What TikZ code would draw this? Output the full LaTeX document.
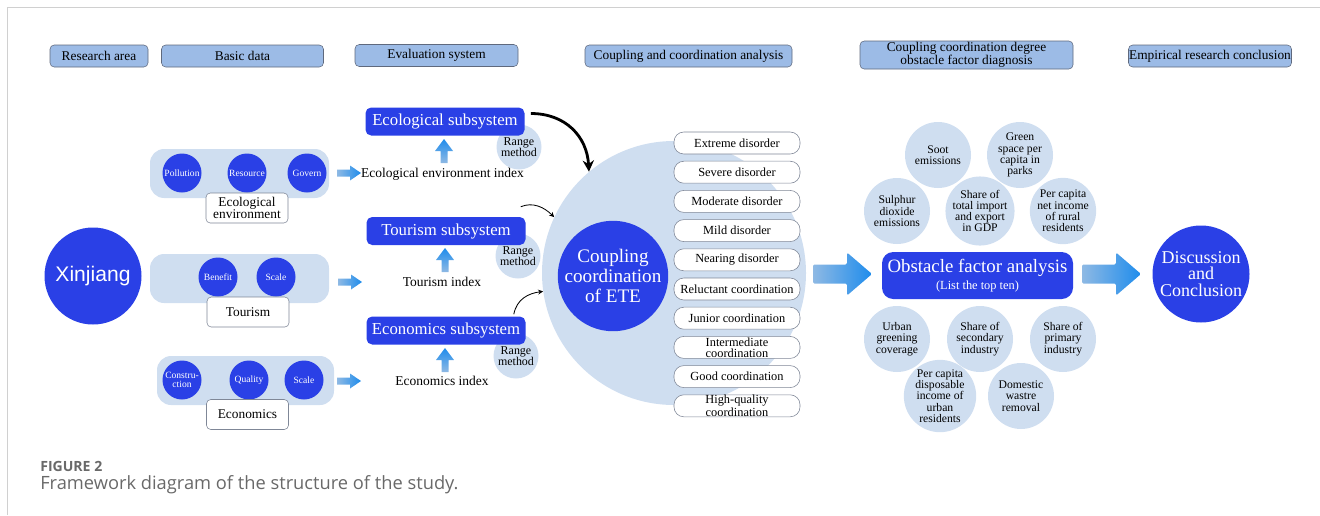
\documentclass[tikz,border=0pt]{standalone}
\usepackage{fontspec}
\setmainfont{Liberation Serif}
\newfontfamily\arialfont{Liberation Sans}
\newfontfamily\captionfont{Open Sans}
\usetikzlibrary{arrows.meta,positioning,calc}
\definecolor{etBlue}{RGB}{42,64,230}
\definecolor{etPale}{RGB}{207,222,240}
\definecolor{etHead}{RGB}{156,187,230}
\definecolor{etEdge}{RGB}{95,105,125}
\definecolor{etArrLight}{RGB}{142,185,228}
\definecolor{etArrDark}{RGB}{30,140,236}
\definecolor{etFrame}{RGB}{208,208,208}
\definecolor{etCaption}{RGB}{105,105,105}
\newcommand{\pxu}{0.025cm}

\begin{document}
\begin{tikzpicture}[x=0.025cm, y=-0.025cm,
  headbox/.style={draw=etEdge, fill=etHead, rounded corners=3pt, inner sep=0pt,
                  minimum height=22*\pxu, align=center, font=\fontsize{9.5}{9.5}\selectfont},
  rowbox/.style={fill=etPale, rounded corners=10pt, minimum height=49*\pxu, inner sep=0pt},
  dataitem/.style={circle, fill=etBlue, text=white, minimum size=39*\pxu, inner sep=0pt,
                   align=center, font=\fontsize{6.8}{6.8}\selectfont},
  tag/.style={draw=etEdge!80, fill=white, rounded corners=3pt, minimum width=82*\pxu,
              minimum height=30*\pxu, inner sep=0pt, align=center,
              font=\fontsize{9.5}{8.5}\selectfont},
  subsys/.style={fill=etBlue, text=white, rounded corners=4pt, minimum width=159*\pxu,
                 minimum height=28*\pxu, inner sep=0pt, font=\fontsize{11.9}{12}\selectfont},
  rangec/.style={circle, fill=etPale, minimum size=45*\pxu, inner sep=0pt, align=center,
                 font=\fontsize{8.5}{8}\selectfont},
  idxtext/.style={inner sep=0pt, font=\fontsize{9.6}{10}\selectfont},
  grade/.style={draw=etEdge!80, fill=white, rounded corners=7pt, minimum width=126*\pxu,
                minimum height=22*\pxu, inner sep=0pt, align=center,
                font=\fontsize{8.8}{8}\selectfont},
  factorc/.style={circle, fill=etPale, minimum size=66*\pxu, inner sep=0pt, align=center,
                  font=\fontsize{8.3}{8}\selectfont},
  hub/.style={circle, fill=etBlue, text=white, minimum size=97*\pxu, inner sep=0pt, align=center},
  bigarc/.style={-{Stealth[length=8pt,width=8pt]}, line width=2pt},
  smallarc/.style={-{Stealth[length=3.5pt,width=3.5pt]}, line width=0.6pt},
  rarrow/.pic={\shade[left color=etArrLight, right color=etArrDark]
    (0,-3.5) -- (13,-3.5) -- (13,-7.5) -- (24,0) -- (13,7.5) -- (13,3.5) -- (0,3.5) -- cycle;},
  uarrow/.pic={\shade[bottom color=etArrLight, top color=etArrDark]
    (-3.5,0) -- (-3.5,-12) -- (-9,-12) -- (0,-24) -- (9,-12) -- (3.5,-12) -- (3.5,0) -- cycle;},
  bigarrow/.pic={\shade[left color=etArrLight, right color=etArrDark, rounded corners=1pt]
    (0,-9.5) -- (34,-9.5) -- (34,-21.5) -- (59,0) -- (34,21.5) -- (34,9.5) -- (0,9.5) -- cycle;}
]
\useasboundingbox (0,0) rectangle (1320,515);
\draw[etFrame, line width=0.7pt] (7,515) -- (7,7) -- (1320,7);

% header row
\node[headbox, minimum width=98*\pxu] (hArea) at (99,56) {Research area};
\node[headbox, minimum width=162*\pxu] (hData) at (242.5,56) {Basic data};
\node[headbox, minimum width=163*\pxu] (hEval) at (436.5,55.5) {Evaluation system};
\node[headbox, minimum width=207*\pxu] (hCoup) at (688.5,56) {Coupling and coordination analysis};
\node[headbox, minimum width=213*\pxu, minimum height=28*\pxu] (hDiag) at (966.5,55)
  {Coupling coordination degree\\obstacle factor diagnosis};
\node[headbox, minimum width=163*\pxu] (hConc) at (1210,56) {Empirical research conclusion};

% research area
\node[hub, font=\arialfont\fontsize{15}{15}\selectfont] (xinjiang) at (93,276) {Xinjiang};

% basic data
\node[rowbox, minimum width=179*\pxu] (ecoRow) at (239.5,173.5) {};
\node[rowbox, minimum width=179*\pxu] (tourRow) at (239.5,278.5) {};
\node[rowbox, minimum width=177*\pxu] (econRow) at (245.5,380.5) {};

\node[dataitem] (pollution) at (182,173) {Pollution};
\node[dataitem] (resource) at (247,173) {Resource};
\node[dataitem] (govern) at (307,173) {Govern};
\node[dataitem] (benefit) at (218,277) {Benefit};
\node[dataitem] (tourScale) at (276,277) {Scale};
\node[dataitem] (construction) at (182,380) {Constru-\\ction};
\node[dataitem] (quality) at (249,380) {Quality};
\node[dataitem] (econScale) at (304,380) {Scale};

\node[tag] (ecoTag) at (247,208) {Ecological\\environment};
\node[tag] (tourTag) at (248,312) {Tourism};
\node[tag] (econTag) at (247.5,414.5) {Economics};

\pic at (337,173) {rarrow};
\pic at (338,282) {rarrow};
\pic at (337,381) {rarrow};

% evaluation system
\node[idxtext] (ecoIdx) at (442.5,174) {Ecological environment index};
\node[idxtext] (tourIdx) at (442,282) {Tourism index};
\node[idxtext] (econIdx) at (442,381) {Economics index};

\pic at (444,163) {uarrow};
\pic at (445,272) {uarrow};
\pic at (445,372) {uarrow};

\node[rangec] (ecoRange) at (519,147) {Range\\method};
\node[rangec] (tourRange) at (518,256) {Range\\method};
\node[rangec] (econRange) at (516,356) {Range\\method};

\node[subsys] (ecoSub) at (445,121.5) {Ecological subsystem};
\node[subsys] (tourSub) at (446,231) {Tourism subsystem};
\node[subsys] (econSub) at (446,330.5) {Economics subsystem};

% coupling and coordination
\node[circle, fill=etPale, minimum size=264*\pxu] (ccaBg) at (674,273) {};
\node[hub, font=\fontsize{13.6}{14.2}\selectfont] (ccaHub) at (613,276) {Coupling\\coordination\\of ETE};
\foreach \lvl [count=\k from 0] in {Extreme disorder, Severe disorder, Moderate disorder,
    Mild disorder, Nearing disorder, Reluctant coordination, Junior coordination,
    {Intermediate\\coordination}, Good coordination, {High-quality\\coordination}}
  \node[grade] (grade\k) at (737,143+29.2*\k) {\lvl};

\draw[bigarc] ([shift={(6,-8)}]ecoSub.east) .. controls +(35,0) and +(-2,-35) .. (ccaBg.130);
\draw[smallarc] ([shift={(-5,-10)}]tourSub.north east) .. controls +(12,-5) and +(-10,-10) .. (ccaBg.155);
\draw[smallarc] ([shift={(-12,-2)}]econSub.north east) .. controls +(3,-15) and +(-15,2) .. (ccaBg.188);

% obstacle diagnosis
\pic at (813,274) {bigarrow};
\node[fill=etBlue, text=white, rounded corners=8pt, minimum width=191*\pxu,
      minimum height=47*\pxu, inner sep=0pt, align=center,
      font=\fontsize{13.4}{12}\selectfont] (obstacle) at (977.5,275.5)
  {Obstacle factor analysis\\{\fontsize{8.8}{9}\selectfont (List the top ten)}};

\node[factorc] (soot) at (938,155) {Soot\\emissions};
\node[factorc] (green) at (1020,155) {Green\\space per\\capita in\\parks};
\node[factorc] (sulphur) at (897,211) {Sulphur\\dioxide\\emissions};
\node[factorc] (trade) at (980,211) {Share of\\total import\\and export\\in GDP};
\node[factorc] (rural) at (1063,211) {Per capita\\net income\\of rural\\residents};
\node[factorc] (greening) at (897,339) {Urban\\greening\\coverage};
\node[factorc] (secondary) at (980,339) {Share of\\secondary\\industry};
\node[factorc] (primary) at (1063,339) {Share of\\primary\\industry};
\node[factorc] (urban) at (940,396) {Per capita\\disposable\\income of\\urban\\residents};
\node[factorc] (waste) at (1021,396) {Domestic\\wastre\\removal};

% conclusion
\pic at (1082,274) {bigarrow};
\node[hub, font=\fontsize{12.8}{11.5}\selectfont] (discussion) at (1201,274) {Discussion\\and\\Conclusion};

% caption
\node[anchor=west, inner sep=0pt, text=etCaption, font=\captionfont\bfseries\fontsize{10}{10}\selectfont]
  (figTag) at (40,466) {FIGURE 2};
\node[anchor=west, inner sep=0pt, text=etCaption, font=\captionfont\fontsize{13}{13}\selectfont]
  (figCaption) at (40,485) {Framework diagram of the structure of the study.};
\end{tikzpicture}
\end{document}
